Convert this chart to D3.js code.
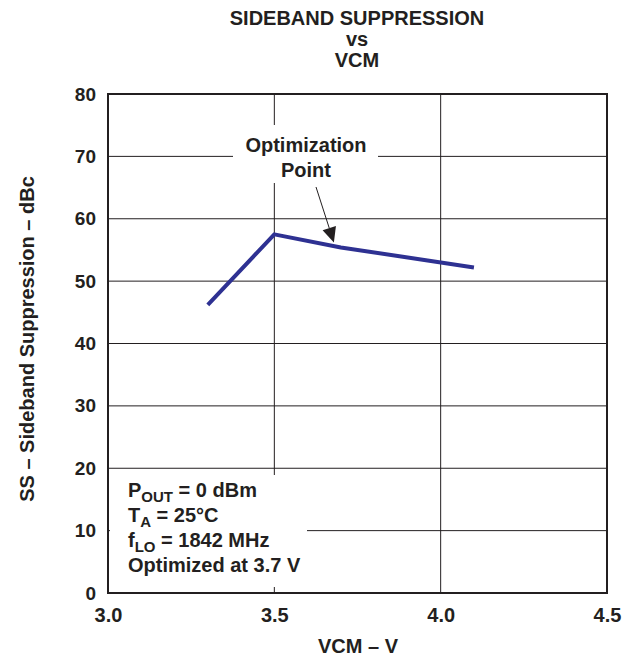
<!DOCTYPE html>
<html>
<head>
<meta charset="utf-8">
<script src="https://cdn.jsdelivr.net/npm/d3@7"></script>
<style>
  body { margin: 0; background: #fff; }
  text { font-family: "Liberation Sans", Arial, sans-serif; font-weight: bold; fill: #231f20; }
</style>
</head>
<body>
<svg id="chart" width="624" height="662"></svg>
<script>
// data
let vcm = [3.3, 3.5, 3.7, 4.1];
let suppression = [46.2, 57.5, 55.4, 52.2];
let xTicks = [3.0, 3.5, 4.0, 4.5];
let yTicks = [0, 10, 20, 30, 40, 50, 60, 70, 80];
let titleLines = ["SIDEBAND SUPPRESSION", "vs", "VCM"];
let noteLines = [
  ["P", "OUT", " = 0 dBm"],
  ["T", "A", " = 25°C"],
  ["f", "LO", " = 1842 MHz"],
  ["Optimized at 3.7 V", "", ""]
];
let optimumVcm = 3.7;

let svg = d3.select("#chart");

let x = d3.scaleLinear().domain([3.0, 4.5]).range([108, 607]);
let y = d3.scaleLinear().domain([0, 80]).range([593, 94]);

// grid
let grid = svg.append("g");
grid.selectAll("line.h")
  .data(yTicks.slice(1, -1))
  .enter()
  .append("line")
  .attr("x1", x(3.0)).attr("x2", x(4.5))
  .attr("y1", (d) => y(d)).attr("y2", (d) => y(d))
  .attr("stroke", "#231f20").attr("stroke-width", 1);
grid.selectAll("line.v")
  .data(xTicks.slice(1, -1))
  .enter()
  .append("line")
  .attr("x1", (d) => x(d)).attr("x2", (d) => x(d))
  .attr("y1", y(0)).attr("y2", y(80))
  .attr("stroke", "#231f20").attr("stroke-width", 1);

// white patches behind the annotation and the note block
svg.append("rect")
  .attr("x", 233).attr("y", 125).attr("width", 145).attr("height", 58)
  .attr("fill", "#fff");
svg.append("rect")
  .attr("x", x(3.0) + 2).attr("y", 475).attr("width", 197).attr("height", 112)
  .attr("fill", "#fff");

// axes
let xAxis = d3.axisBottom(x).tickValues(xTicks).tickSize(0).tickPadding(15)
  .tickFormat(d3.format(".1f"));
let yAxis = d3.axisLeft(y).tickValues(yTicks).tickSize(0).tickPadding(12);

svg.append("g").attr("transform", "translate(0," + y(0) + ")").call(xAxis)
  .call((g) => g.select(".domain").remove())
  .selectAll("text").style("font-size", "20px");
svg.append("g").attr("transform", "translate(" + x(3.0) + ",0)").call(yAxis)
  .call((g) => g.select(".domain").remove())
  .selectAll("text").style("font-size", "19px");

// frame
svg.append("rect")
  .attr("x", x(3.0)).attr("y", y(80))
  .attr("width", x(4.5) - x(3.0)).attr("height", y(0) - y(80))
  .attr("fill", "none").attr("stroke", "#231f20").attr("stroke-width", 2);

// curve
let line = d3.line()
  .x((d, i) => x(vcm[i]))
  .y((d) => y(d));
svg.append("path")
  .datum(suppression)
  .attr("d", line)
  .attr("fill", "none")
  .attr("stroke", "#2e3192")
  .attr("stroke-width", 4)
  .attr("stroke-linejoin", "round");

// annotation
svg.append("text").attr("x", 306).attr("y", 152).attr("text-anchor", "middle")
  .style("font-size", "20px").text("Optimization");
svg.append("text").attr("x", 306).attr("y", 177).attr("text-anchor", "middle")
  .style("font-size", "20px").text("Point");

let tipIdx = vcm.indexOf(optimumVcm);
let tipX = x(optimumVcm) - 7;
let tipY = y(suppression[tipIdx]) - 5;
let tailX = 316, tailY = 187;
let ang = Math.atan2(tipY - tailY, tipX - tailX);
let headLen = 15, headW = 7;
let baseX = tipX - headLen * Math.cos(ang), baseY = tipY - headLen * Math.sin(ang);
svg.append("line")
  .attr("x1", tailX).attr("y1", tailY).attr("x2", baseX).attr("y2", baseY)
  .attr("stroke", "#231f20").attr("stroke-width", 1);
svg.append("path")
  .attr("d", "M" + tipX + "," + tipY +
    "L" + (baseX + headW * Math.sin(ang)) + "," + (baseY - headW * Math.cos(ang)) +
    "L" + (baseX - headW * Math.sin(ang)) + "," + (baseY + headW * Math.cos(ang)) + "Z")
  .attr("fill", "#231f20");

// note block
let note = svg.append("g");
noteLines.forEach((parts, i) => {
  let t = note.append("text").attr("x", 128).attr("y", 497 + i * 25)
    .style("font-size", "20px");
  t.append("tspan").text(parts[0]);
  if (parts[1]) {
    t.append("tspan").attr("dy", 5).style("font-size", "15px").text(parts[1]);
    t.append("tspan").attr("dy", -5).text(parts[2]);
  }
});

// titles
svg.selectAll("text.title")
  .data(titleLines)
  .enter()
  .append("text")
  .attr("x", 357)
  .attr("y", (d, i) => 25 + i * 21)
  .attr("text-anchor", "middle")
  .style("font-size", "20px")
  .text((d) => d);

svg.append("text").attr("x", 358).attr("y", 653).attr("text-anchor", "middle")
  .style("font-size", "20px").text("VCM – V");

svg.append("text")
  .attr("transform", "translate(34,339) rotate(-90)")
  .attr("text-anchor", "middle")
  .style("font-size", "20px")
  .text("SS – Sideband Suppression – dBc");
</script>
</body>
</html>
